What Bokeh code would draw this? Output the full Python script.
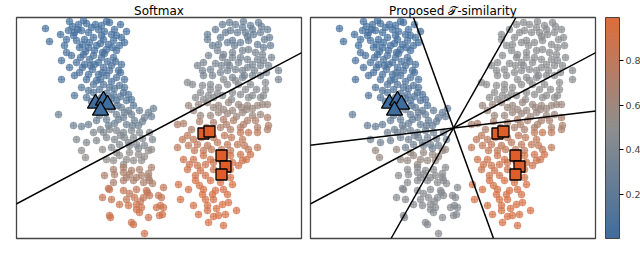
import numpy as np
from bokeh.plotting import figure
from bokeh.models import (Range1d, Slope, ColumnDataSource, LinearColorMapper,
                          ColorBar, FixedTicker)
from bokeh.layouts import row
from bokeh.embed import file_html
from bokeh.resources import INLINE
from bokeh.transform import transform

# ---------------- data (embedding coordinates, y grows downward) ----------------
# each band: (softmax score, T-similarity score, list of points)
band_lc1 = (0.05, 0.05, [(29,11),(53,4),(62,7),(70,6),(79,7),(93,5),(104,7),(52,13),(58,15),(65,13),
                          (72,15),(82,12),(88,14),(98,12),(100,18),(33,24),(50,22),(60,23),(68,22),(77,20),
                          (87,22),(97,23),(108,25),(48,28),(63,30),(72,30),(80,28),(90,32),(100,33),(75,10),
                          (85,18),(92,27),(57,18),(66,27),(78,33),(95,17),(103,28),(84,26),
                          (56,9),(67,3),(85,8),(110,14),(44,17),(90,4),(61,12),(73,25),(105,20),(96,30),
                          (69,34),(86,35)])
band_lc2 = (0.08, 0.08, [(45,43),(55,38),(67,37),(77,38),(85,40),(97,40),(105,47),(53,50),(68,47),(78,47),
                          (87,50),(95,48),(45,62),(63,55),(72,57),(82,57),(90,58),(100,60),(108,62),(73,42),
                          (82,45),(91,44),(76,52),(86,55),(93,53),(70,62),(80,63),(95,64),(60,45),
                          (50,35),(64,40),(88,36),(102,53),(58,58),(74,48),(99,44),(84,62),(104,55),(66,50)])
band_lc3 = (0.15, 0.13, [(65,70),(77,67),(87,67),(93,70),(103,68),(58,78),(77,75),(97,77),(107,75),(100,83),
                          (110,83),(117,88),(83,72),(90,76),(98,71),(85,80),(104,79),(70,80),(112,77),(92,84),
                          (80,85),(72,73),(95,81),(108,70),(115,82),(88,88),(101,88),(75,84)])
band_lc4 = (0.30, 0.25, [(42,97),(57,108),(65,109),(72,107),(80,103),(90,102),(100,97),(107,100),(115,97),
                          (123,93),(128,100),(137,91),(135,99),(95,92),(105,90),(112,93),(118,103),(110,107),
                          (98,106),(122,108),(88,95),(102,102),(116,108),(92,108),(126,104),(108,95),(132,95),
                          (83,98)])
band_lc5 = (0.42, 0.33, [(77,115),(87,115),(93,112),(100,113),(107,115),(115,113),(123,115),(133,115),(60,122),
                          (70,125),(80,123),(95,130),(103,127),(112,125),(120,127),(128,128),(136,122),(108,120),
                          (117,120),(126,121),(98,122),(90,120),(104,118),(113,128),(122,131),(84,112)])
band_lc6 = (0.52, 0.56, [(65,133),(69,140),(86,132),(135,132),(90,142),(97,143),(103,138),(110,142),(117,143),
                          (125,143),(132,133),(100,135),(113,135),(122,137),(107,147),(128,139)])
band_lc7 = (0.68, 0.47, [(97,152),(107,150),(115,153),(123,152),(135,150),(88,158),(98,157),(107,155),(113,157),
                          (125,158),(132,160),(97,165),(107,163),(117,163),(127,165),(133,163),(132,156),(136,166),
                          (120,160),(110,160)])
band_lc8 = (0.82, 0.45, [(93,172),(107,173),(120,172),(130,173),(86,180),(95,182),(110,182),(118,180),(127,180),
                          (133,178),(142,178),(92,171),(131,175),(147,170),(113,176),(124,184),(145,180)])
band_lc9 = (0.88, 0.45, [(103,187),(112,188),(120,187),(125,190),(140,190),(93,198),(120,192),(123,195),(143,198),
                          (115,205),(117,207),(128,216),(147,190),(146,197),(94,200),(144,188),(132,200)])

band_rc1 = (0.27, 0.47, [(206,7),(219,7),(227,4),(234,8),(242,5),(251,12),(191,17),(191,22),(204,20),(214,13),
                          (221,15),(229,15),(237,17),(244,15),(202,27),(211,25),(216,23),(224,25),(232,23),(241,27),
                          (247,30),(254,28),(226,10),(236,12),(209,15),(248,22),
                          (199,12),(213,5),(231,19),(245,9),(253,20),(218,28),(196,28)])
band_rc2 = (0.37, 0.47, [(201,33),(207,37),(216,35),(226,33),(232,32),(239,35),(246,37),(206,40),(216,40),(231,42),
                          (241,42),(247,43),(187,45),(181,48),(186,53),(194,52),(187,58),(196,58),(204,55),(211,53),
                          (219,52),(231,50),(244,48),(252,48),(216,60),(226,60),(236,58),(244,58),(262,53),(262,62),
                          (222,45),(236,47),(211,45),(226,53),(250,55),
                          (199,46),(213,48),(224,40),(238,53),(255,40),(192,38),(228,58),(205,48)])
band_rc3 = (0.46, 0.50, [(171,65),(176,67),(194,67),(202,70),(211,67),(222,67),(234,67),(249,65),(249,72),(207,62),
                          (184,75),(194,72),(179,80),(187,82),(197,80),(206,78),(216,75),(224,77),(236,78),(244,80),
                          (229,72),(215,82),(240,72),(186,68),(219,63),(232,80),(201,76),(247,78),(192,78)])
band_rc4 = (0.58, 0.58, [(246,87),(172,88),(182,87),(191,85),(202,88),(212,85),(222,87),(231,88),(241,88),(251,87),
                          (184,98),(194,98),(202,95),(216,93),(226,95),(236,98),(244,97),(207,92),(220,99),(230,92),
                          (197,90),(211,96),(236,91),(177,93),(225,90)])
band_rc5 = (0.70, 0.68, [(161,107),(167,106),(197,105),(207,102),(217,103),(227,107),(239,103),(251,100),(252,108),
                          (204,110),(214,112),(224,110),(241,110),(251,112),
                          (183,104),(190,110),(231,103),(210,107),(175,112)])
band_rc6 = (0.80, 0.80, [(171,118),(177,122),(224,115),(232,115),(241,115),(161,130),(172,128),(181,127),(191,128),
                          (201,125),(211,127),(221,127),(232,132),(241,130),(215,120),(197,120),(226,122),(205,132),
                          (187,133),(214,133),(185,120),(195,132),(228,128),(208,118),(166,122),(178,133)])
band_rc7 = (0.88, 0.88, [(167,142),(177,142),(187,138),(194,142),(214,138),(224,137),(226,143),(234,137),(171,152),
                          (181,148),(189,147),(197,152),(214,152),(222,148),(179,158),(189,158),(197,145),(216,145),
                          (205,143),(184,153),(204,155),(173,147),(230,142)])
band_rc8 = (0.93, 0.93, [(179,163),(194,163),(214,160),(216,167),(162,167),(172,172),(187,172),(199,173),(207,172),
                          (211,177),(196,177),(186,177),(164,182),(177,188),(189,182),(197,182),(206,187),(191,188),
                          (220,193),(191,193),(197,199),(202,198),(209,197),(192,205),(207,208),
                          (204,165),(183,168),(200,191),(212,185),(182,197)])

bands = [band_lc1, band_lc2, band_lc3, band_lc4, band_lc5, band_lc6, band_lc7, band_lc8, band_lc9,
         band_rc1, band_rc2, band_rc3, band_rc4, band_rc5, band_rc6, band_rc7, band_rc8]

# prototypes
triangle_x = [79, 87, 91, 84]
triangle_y = [86, 83, 87, 93]
square_x = [187, 193, 205, 209, 205]
square_y = [116, 114, 138, 149, 157]

# decision boundaries through the origin of the embedding
center = (143, 110.5)
softmax_gradients = [-0.53]
tsim_gradients = [2.76, -1.77, -0.53, -0.12]

panel_titles = ["Softmax", "Proposed \U0001D4AF-similarity"]
cbar_ticks = [0.2, 0.4, 0.6, 0.8]
cbar_low, cbar_high = 0.005, 0.99

# ---------------- build ----------------
xs, ys, v_soft, v_tsim = [], [], [], []
for vs, vt, pts in bands:
    for (x, y) in pts:
        xs.append(x); ys.append(y); v_soft.append(vs); v_tsim.append(vt)


def lerp_palette(anchors, n=256):
    out = []
    for i in range(n):
        t = i / (n - 1) * (len(anchors) - 1)
        k = min(int(t), len(anchors) - 2)
        f = t - k
        c0, c1 = anchors[k], anchors[k + 1]
        rgb = [round(int(c0[j*2+1:j*2+3], 16) * (1 - f) + int(c1[j*2+1:j*2+3], 16) * f) for j in range(3)]
        out.append('#%02x%02x%02x' % tuple(rgb))
    return out


palette = lerp_palette(["#3f6d9e", "#8e8e8e", "#dd6d3c"])
mapper = LinearColorMapper(palette=palette, low=cbar_low, high=cbar_high)

FONT = "DejaVu Sans"


def make_panel(vals, gradients, title, left_border, right_border, with_cbar=False):
    p = figure(frame_width=285, frame_height=221, output_backend="svg", toolbar_location=None,
               x_range=Range1d(0, 285), y_range=Range1d(221, 0), title=title,
               min_border_left=left_border, min_border_right=right_border,
               min_border_top=17, min_border_bottom=6)
    p.title.align = "center"
    p.title.text_font = FONT
    p.title.text_font_size = "12px"
    p.title.text_font_style = "normal"
    p.title.text_color = "black"
    p.title.standoff = 0
    p.title.offset = 0
    p.axis.visible = False
    p.grid.visible = False
    p.outline_line_color = "#444444"
    p.outline_line_width = 1.3
    p.background_fill_color = "white"
    p.border_fill_color = "white"
    src = ColumnDataSource(dict(x=xs, y=ys, v=vals))
    p.scatter("x", "y", source=src, marker="circle_cross", size=7,
              fill_color=transform("v", mapper), fill_alpha=0.68,
              line_color=transform("v", mapper), line_alpha=0.5, line_width=0.8)
    for g in gradients:
        p.add_layout(Slope(gradient=g, y_intercept=center[1] - g * center[0],
                           line_color="black", line_width=1.5))
    p.scatter(triangle_x, triangle_y, marker="triangle", size=16, fill_color="#3f6d9e",
              line_color="black", line_width=1.3)
    p.scatter(square_x, square_y, marker="square", size=11, fill_color="#dd5d2b",
              line_color="black", line_width=1.3)
    if with_cbar:
        cb = ColorBar(color_mapper=mapper, width=14, height=221, padding=0, margin=0,
                      location=(10, 0), ticker=FixedTicker(ticks=cbar_ticks),
                      major_label_text_font_size="9.5px", major_label_text_font=FONT,
                      major_tick_out=4, major_tick_in=0, major_tick_line_color="black",
                      bar_line_color="#444444", border_line_color=None,
                      background_fill_color=None, label_standoff=2)
        p.add_layout(cb, "right")
    return p


p1 = make_panel(v_soft, softmax_gradients, panel_titles[0], 16, 5)
p2 = make_panel(v_tsim, tsim_gradients, panel_titles[1], 4, 45, with_cbar=True)

layout = row(p1, p2)
open("out.html", "w").write(file_html(layout, INLINE))
